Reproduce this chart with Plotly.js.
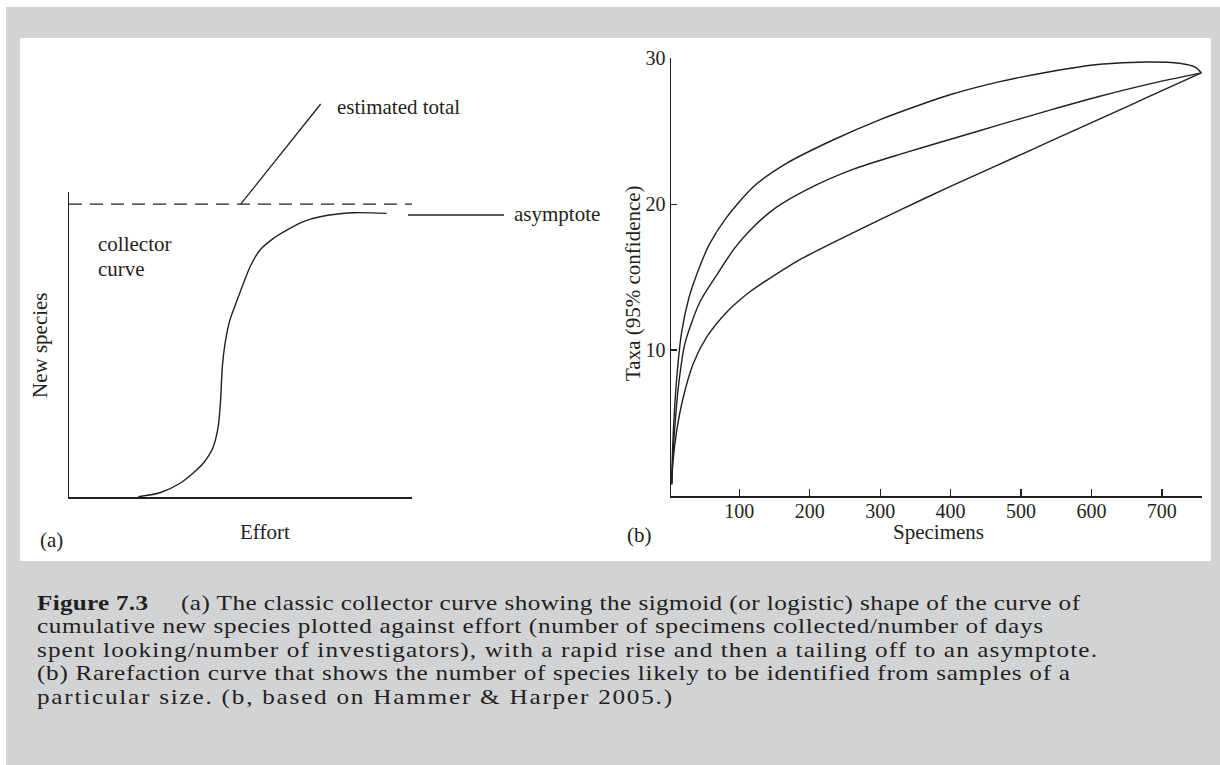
<!DOCTYPE html>
<html><head><meta charset="utf-8">
<script src="https://cdn.plot.ly/plotly-3.0.1.min.js"></script>
<style>html,body{margin:0;padding:0;background:#fff;} #chart{width:1220px;height:765px;}</style>
</head><body><div id="chart"></div>
<script>
// ---------- Panel (a): classic collector curve (arbitrary units, 0-100) ----------
const effort     = [20.2, 26.5, 32.4, 37.2, 39.15, 41.9, 43.5, 44.2, 44.7, 45.5, 46.9, 49.4, 52.8, 55.7, 59.6, 63.5, 68.3, 73.2, 82.9, 92.6];
const newSpecies = [0.1, 1.4, 4.5, 8.85, 11.05, 15.97, 23.05, 31.8, 42.7, 50.4, 58.0, 65.7, 75.5, 81.0, 84.8, 87.5, 90.3, 91.9, 93.2, 93.0];
const estimatedTotalX = [0, 100];
const estimatedTotalY = [96, 96];

// ---------- Panel (b): rarefaction curve with 95% confidence band ----------
const upperX  = [4, 4.5, 6.4, 11, 18, 28, 42, 58, 82, 120, 167, 233, 300, 356, 399, 470, 541, 612, 678, 725, 748, 756];
const upperY  = [0.8, 2.0, 4.5, 8.0, 11.2, 13.5, 15.5, 17.3, 19.1, 21.2, 22.8, 24.4, 25.8, 26.8, 27.5, 28.4, 29.08, 29.59, 29.75, 29.66, 29.38, 29.0];
const middleX = [4, 5, 7.5, 13.5, 23, 44, 70, 92, 115, 150, 196, 262, 330, 400, 470, 541, 612, 683, 756];
const middleY = [0.8, 2.0, 4.1, 7.5, 10.5, 13.3, 15.3, 16.9, 18.2, 19.7, 21.0, 22.4, 23.45, 24.45, 25.45, 26.45, 27.4, 28.25, 29.0];
const lowerX  = [4, 5.5, 11.2, 20.6, 34.8, 53.8, 82, 115, 141, 186, 262, 328, 399, 470, 541, 612, 683, 756];
const lowerY  = [0.8, 2.2, 4.5, 6.8, 9.1, 10.9, 12.6, 14.0, 14.85, 16.2, 18.05, 19.6, 21.2, 22.75, 24.3, 25.85, 27.4, 29.0];
const specimenTicks = [100, 200, 300, 400, 500, 600, 700];
const taxaTicks = [10, 20, 30];

// ---------- Text ----------
const captionLead = "Figure 7.3";
const captionLines = [
  "(a) The classic collector curve showing the sigmoid (or logistic) shape of the curve of",
  "cumulative new species plotted against effort (number of specimens collected/number of days",
  "spent looking/number of investigators), with a rapid rise and then a tailing off to an asymptote.",
  "(b) Rarefaction curve that shows the number of species likely to be identified from samples of a",
  "particular size. (b, based on Hammer &amp; Harper 2005.)"
];

const W = 1220, H = 765;
const px = x => x / W;
const py = y => 1 - y / H;
const ink = '#231f20';
const serif = 'Liberation Serif, Times New Roman, serif';

const lineStyle = {color: ink, width: 1.4, shape: 'spline', smoothing: 0.7};

const traces = [
  {x: effort, y: newSpecies, xaxis: 'x', yaxis: 'y', mode: 'lines', line: lineStyle, hoverinfo: 'skip'},
  {x: estimatedTotalX, y: estimatedTotalY, xaxis: 'x', yaxis: 'y', mode: 'lines',
   line: {color: ink, width: 1.3, dash: '13px,8px'}, hoverinfo: 'skip'},
  {x: upperX, y: upperY, xaxis: 'x2', yaxis: 'y2', mode: 'lines', line: lineStyle, hoverinfo: 'skip'},
  {x: middleX, y: middleY, xaxis: 'x2', yaxis: 'y2', mode: 'lines', line: lineStyle, hoverinfo: 'skip'},
  {x: lowerX, y: lowerY, xaxis: 'x2', yaxis: 'y2', mode: 'lines', line: lineStyle, hoverinfo: 'skip'}
];

const plainAxis = {showline: true, linecolor: ink, linewidth: 1.5, showticklabels: false, ticks: '',
  showgrid: false, zeroline: false, fixedrange: true};

function ann(text, x, y, opts) {
  return Object.assign({text: text, x: px(x), y: py(y), xref: 'paper', yref: 'paper', showarrow: false,
    xanchor: 'left', yanchor: 'middle', align: 'left', font: {family: serif, size: 21, color: ink}}, opts || {});
}

const annotations = [
  ann('estimated total', 335, 107),
  ann('asymptote', 512, 214),
  ann('collector', 96, 244),
  ann('curve', 96, 269),
  ann('New species', 40, 345, {xanchor: 'center', align: 'center', textangle: -90}),
  ann('Effort', 265, 531.5, {xanchor: 'center', align: 'center'}),
  ann('(a)', 38, 540),
  ann('Taxa (95% confidence)', 633, 283, {xanchor: 'center', align: 'center', textangle: -90}),
  ann('Specimens', 938, 531.5, {xanchor: 'center', align: 'center'}),
  ann('(b)', 625, 535)
];

// caption: one annotation per printed line (left edge, right edge and centre y in page pixels)
const captionStart = annotations.length;
const capFont = {family: serif, size: 21, color: ink};
const capLeft  = [35, 179, 35, 35, 35, 35];
const capRight = [148, 1080, 1043, 1097, 1070, 672];
const capY     = [602.5, 602.5, 626, 649.5, 673, 696.5];
const capTexts = ['<b>' + captionLead + '</b>'].concat(captionLines);
capTexts.forEach((t, i) => annotations.push(ann(t, capLeft[i], capY[i], {font: capFont})));

const layout = {
  width: W, height: H,
  margin: {l: 0, r: 0, t: 0, b: 0, pad: 0},
  paper_bgcolor: '#ffffff', plot_bgcolor: 'rgba(0,0,0,0)',
  showlegend: false,
  font: {family: serif, color: ink, size: 20},
  xaxis: Object.assign({}, plainAxis, {domain: [px(69), px(412)], range: [0, 100], anchor: 'y'}),
  yaxis: Object.assign({}, plainAxis, {domain: [py(497), py(192)], range: [0, 100], anchor: 'x'}),
  xaxis2: {domain: [px(671), px(1202)], range: [3, 757], anchor: 'y2',
    tickvals: specimenTicks, ticks: 'inside', ticklen: 7, tickwidth: 1.3, tickcolor: ink, ticklabelstandoff: -4,
    showline: true, linecolor: ink, linewidth: 1.5, showgrid: false, zeroline: false, fixedrange: true,
    tickfont: {family: serif, size: 20, color: ink}},
  yaxis2: {domain: [py(496), py(58.3)], range: [0, 30], anchor: 'x2',
    tickvals: taxaTicks, ticks: 'inside', ticklen: 6, tickwidth: 1.3, tickcolor: ink,
    showline: true, linecolor: ink, linewidth: 1.5, showgrid: false, zeroline: false, fixedrange: true,
    tickfont: {family: serif, size: 20, color: ink}},
  shapes: [
    {type: 'rect', xref: 'paper', yref: 'paper', x0: px(6), x1: 1, y0: 0, y1: py(7),
     fillcolor: '#d2d3d5', line: {width: 0}, layer: 'below'},
    {type: 'rect', xref: 'paper', yref: 'paper', x0: px(20), x1: px(1211), y0: py(561), y1: py(38),
     fillcolor: '#ffffff', line: {width: 0}, layer: 'below'},
    // leader from the estimated-total line to its label
    {type: 'line', xref: 'x domain', yref: 'y domain', x0: 0.5006, y0: 0.96, x1: 0.7338, y1: 1.2885,
     line: {color: ink, width: 1.3}},
    // asymptote marker line
    {type: 'line', xref: 'x domain', yref: 'y domain', x0: 0.9883, y0: 0.9246, x1: 1.2682, y1: 0.9246,
     line: {color: ink, width: 1.3}}
  ],
  annotations: annotations
};

const capStretch = 1.2;  // the book face is wider than Times
Plotly.newPlot('chart', traces, layout, {staticPlot: true, displayModeBar: false}).then(gd => {
  gd.querySelectorAll('g.annotation').forEach(g => {
    const k = +g.getAttribute('data-index') - captionStart;
    if (k >= 0) {
      g.querySelectorAll('text.annotation-text').forEach(t => {
        const x0 = parseFloat(t.getAttribute('x')) || 0;
        t.setAttribute('transform', 'translate(' + x0 + ',0) scale(' + capStretch + ',1) translate(' + (-x0) + ',0)');
        t.setAttribute('textLength', ((capRight[k] - capLeft[k] - 2) / capStretch).toFixed(1));
        t.setAttribute('lengthAdjust', 'spacing');
      });
    }
  });
});
</script>
</body></html>
